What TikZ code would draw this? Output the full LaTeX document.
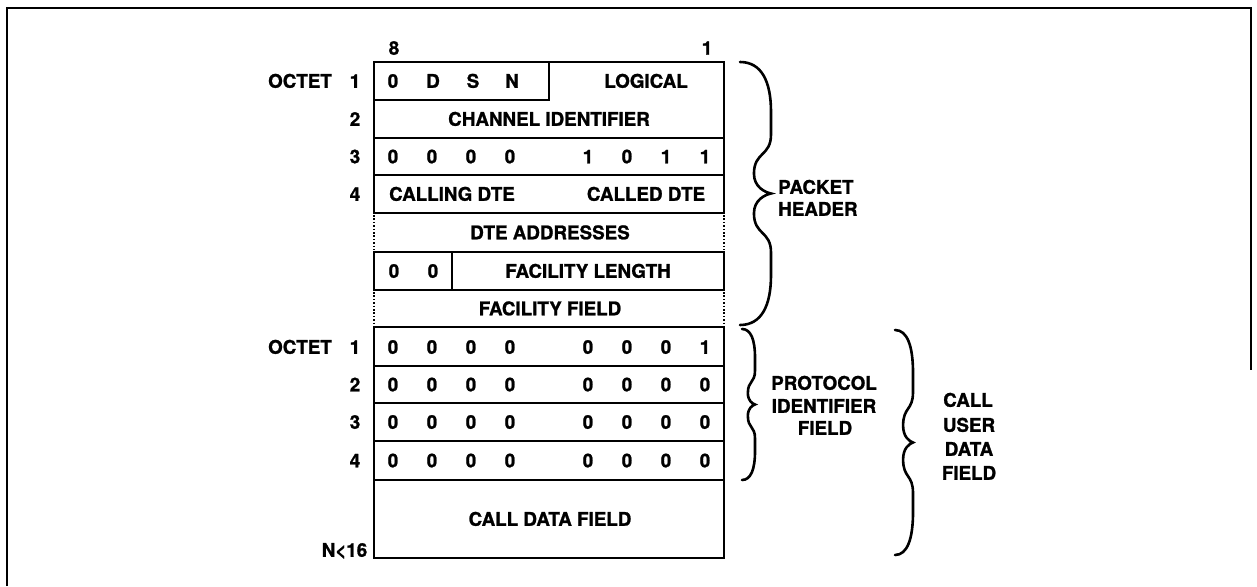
\documentclass[tikz,border=0pt]{standalone}
\usepackage{fontspec}
\setmainfont{TeX Gyre Heros}[BoldFeatures={FakeBold=1.2}]
\begin{document}
\begin{tikzpicture}[x=1pt,y=-1pt,
  lbl/.style={font=\bfseries\fontsize{18.8}{20}\selectfont, inner sep=0pt, text height=13.5pt, text depth=0pt, anchor=center},
  rule/.style={line width=2.8pt, line cap=rect},
  dotside/.style={line width=2.2pt, dash pattern=on 1.6pt off 1.8pt},
  bracepath/.style={line width=2.6pt, line cap=round},
  frameline/.style={line width=2.4pt}]
\useasboundingbox (0,0) rectangle (1257,586);
% frame
\coordinate (fTL) at (7,8);
\coordinate (fTR) at (1251,8);
\coordinate (fBL) at (7,586);
\coordinate (fBR) at (1251,370);
\draw[frameline] (fBL) -- (fTL) -- (fTR) -- (fBR);

% row boundaries
\def\xL{374}\def\xR{724}
\draw[rule] (\xL,62) -- (\xR,62);
\draw[rule] (\xL,100) -- (549,100) -- (549,62);
\foreach \yy in {138,175,213,252,290,327,366,403,441,480,558}
  \draw[rule] (\xL,\yy) -- (\xR,\yy);
\draw[rule] (452,252) -- (452,290);
% sides
\foreach \xx in {\xL,\xR}{
  \draw[rule] (\xx,62) -- (\xx,213);
  \draw[dotside] (\xx,215) -- (\xx,250);
  \draw[rule] (\xx,252) -- (\xx,290);
  \draw[dotside] (\xx,292) -- (\xx,325);
  \draw[rule] (\xx,327) -- (\xx,558);
}

% column numbers
\node[lbl] (c8) at (394,48) {8};
\node[lbl] (c1) at (707,48) {1};

% left labels
\node[lbl] (oct1) at (300,81) {OCTET};
\node[lbl] (n1) at (355,81) {1};
\node[lbl] (n2) at (355,119) {2};
\node[lbl] (n3) at (355,156.5) {3};
\node[lbl] (n4) at (355,194) {4};
\node[lbl] (oct2) at (300,347) {OCTET};
\node[lbl] (m1) at (355,347) {1};
\node[lbl] (m2) at (355,384.5) {2};
\node[lbl] (m3) at (355,422) {3};
\node[lbl] (m4) at (355,460.5) {4};
\node[lbl] (nlt) at (344.5,550) {N<16};

% row 1
\node[lbl] (b10) at (393,81) {0};
\node[lbl] (b1D) at (433,81) {D};
\node[lbl] (b1S) at (473,81) {S};
\node[lbl] (b1N) at (512,81) {N};
\node[lbl] (logical) at (646,81) {LOGICAL};
\node[lbl] (chan) at (549,119) {CHANNEL IDENTIFIER};
% row 3
\foreach \v [count=\i] in {0,0,0,0,1,0,1,1}{
  \pgfmathsetmacro\bx{\i<5 ? 393+39*(\i-1) : 588+39*(\i-5)}
  \node[lbl] (r3b\i) at (\bx,156.5) {\v};
}
\node[lbl] (calling) at (452,194) {CALLING DTE};
\node[lbl] (called) at (646,194) {CALLED DTE};
\node[lbl] (dteaddr) at (550,232.5) {DTE ADDRESSES};
\node[lbl] (f0a) at (394,271) {0};
\node[lbl] (f0b) at (433,271) {0};
\node[lbl] (faclen) at (588,271) {FACILITY LENGTH};
\node[lbl] (facfld) at (550,308.5) {FACILITY FIELD};
% protocol identifier rows
\foreach \rowy/\last [count=\r] in {347/1,384.5/0,422/0,460.5/0}{
  \foreach \i in {1,...,8}{
    \pgfmathsetmacro\bx{\i<5 ? 393+39*(\i-1) : 588+39*(\i-5)}
    \ifnum\i=8
      \node[lbl] (p\r b\i) at (\bx,\rowy) {\last};
    \else
      \node[lbl] (p\r b\i) at (\bx,\rowy) {0};
    \fi
  }
}
\node[lbl] (calldata) at (550,519) {CALL DATA FIELD};

% braces
\newcommand\mycurly[4]{% x0, top, halfheight, amplitude
  \begin{scope}[shift={(#1,#2)}, xscale=#4, yscale=#3]
  \draw[bracepath] (0,0) .. controls (0.7,0) and (1,0.15) .. (1,0.38) -- (1,0.55)
    .. controls (1,0.72) and (0.45,0.68) .. (0.45,0.85)
    .. controls (0.45,0.95) and (0.8,0.99) .. (1,1)
    .. controls (0.8,1.01) and (0.45,1.05) .. (0.45,1.15)
    .. controls (0.45,1.32) and (1,1.28) .. (1,1.45) -- (1,1.62)
    .. controls (1,1.85) and (0.7,2) .. (0,2);
  \end{scope}}
\mycurly{740}{62}{131.5}{31}
\mycurly{742}{329}{75.5}{13}
\mycurly{895}{330}{112.5}{18}

% brace labels
\node[lbl, anchor=west] (pk1) at (778,187) {PACKET};
\node[lbl, anchor=west] (pk2) at (778,209) {HEADER};
\node[lbl] (pi1) at (824,383) {PROTOCOL};
\node[lbl] (pi2) at (824,406) {IDENTIFIER};
\node[lbl] (pi3) at (825,428) {FIELD};
\node[lbl] (cu1) at (968,400) {CALL};
\node[lbl] (cu2) at (969,425) {USER};
\node[lbl] (cu3) at (969,449) {DATA};
\node[lbl] (cu4) at (969,473) {FIELD};
\end{tikzpicture}
\end{document}
